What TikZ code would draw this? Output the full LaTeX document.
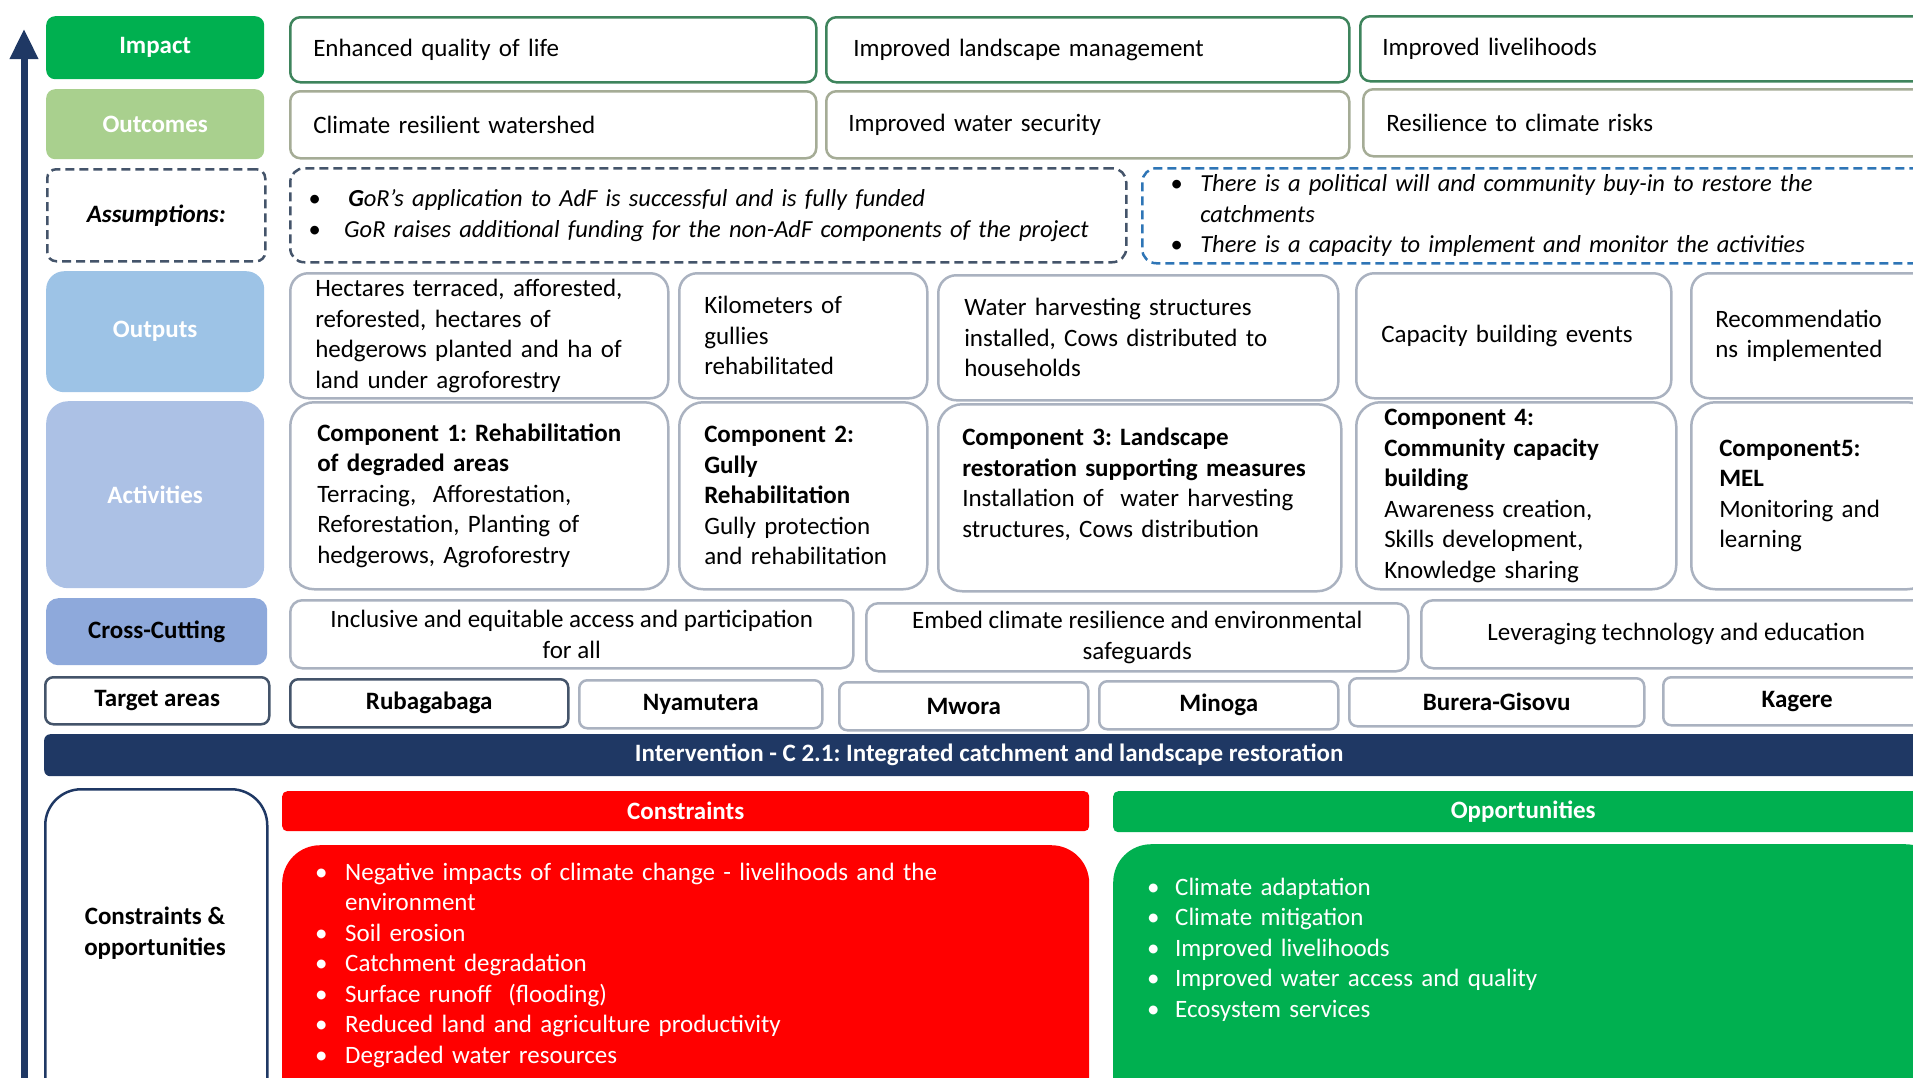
\documentclass[tikz,border=0pt]{standalone}
\usepackage{fontspec}
\setmainfont{Carlito}
\usetikzlibrary{arrows.meta}

\definecolor{impgreen}{RGB}{0,176,80}
\definecolor{outgreen}{RGB}{169,208,142}
\definecolor{outblue}{RGB}{157,195,230}
\definecolor{actblue}{RGB}{172,193,229}
\definecolor{ccblue}{RGB}{142,169,219}
\definecolor{navy}{RGB}{31,56,100}
\definecolor{slate}{RGB}{68,84,106}
\definecolor{dashblue}{RGB}{46,117,182}
\definecolor{impedge}{RGB}{62,132,92}
\definecolor{outedge}{RGB}{165,172,150}
\definecolor{celledge}{RGB}{170,178,192}

\newcommand{\bulletmark}[1]{\makebox[#1][l]{\textbullet}}
\frenchspacing

\begin{document}
\begin{tikzpicture}[x=1pt,y=-1pt,
    every node/.style={font=\fontsize{25}{30.5}\selectfont, inner sep=0pt},
    lbl/.style={anchor=north west, rounded corners=9pt, align=center, font=\fontsize{25}{30.5}\selectfont\bfseries},
    cell/.style={anchor=north west, fill=white, draw=celledge, line width=2.5pt, rounded corners=#1},
    cell/.default=18pt,
    dashbox/.style={dash pattern=on 9pt off 5pt},
    area/.style={cell=8pt, minimum height=48pt, font=\fontsize{25}{30.5}\selectfont\bfseries},
    bar/.style={anchor=north west, text=white, font=\fontsize{25}{30.5}\selectfont\bfseries}]
    \useasboundingbox (0,0) rectangle (1913,1077);
    \clip (0,0) rectangle (1913,1077);

    \coordinate (arrowfoot) at (24,1100);
    \coordinate (arrowtip) at (24,29);
    \draw[navy, line width=7pt, -{Triangle[length=30pt,width=27pt]}] (arrowfoot) -- (arrowtip);

    \node[lbl, fill=impgreen, text=white, minimum width=218pt, minimum height=63pt] (impact) at (46,16) {Impact};
    \node[cell=10pt, draw=impedge, minimum height=65pt, text width=480pt, inner xsep=23pt, align=left] (imp1) at (289,16) {Enhanced quality of life};
    \node[cell=10pt, draw=impedge, minimum height=65pt, text width=469pt, inner xsep=27pt, align=left] (imp2) at (825,16) {Improved landscape management};
    \node[cell=10pt, draw=impedge, minimum height=65pt, text width=526pt, inner xsep=22pt, align=left] (imp3) at (1359,15) {Improved livelihoods};

    \node[lbl, fill=outgreen, text=white, minimum width=218pt, minimum height=70pt] (outcomes) at (46,89) {Outcomes};
    \node[cell=10pt, draw=outedge, minimum height=67pt, text width=480pt, inner xsep=23pt, align=left] (out1) at (289,90) {Climate resilient watershed};
    \node[cell=10pt, draw=outedge, minimum height=67pt, text width=479pt, inner xsep=22pt, align=left] (out2) at (825,90) {Improved water security};
    \node[cell=10pt, draw=outedge, minimum height=67pt, text width=514pt, inner xsep=23pt, align=left] (out3) at (1362,88) {Resilience to climate risks};

    \node[lbl, fill=white, draw=slate, dashbox, line width=2.5pt, minimum width=218pt, minimum height=92pt, font=\fontsize{25}{30.5}\selectfont\bfseries\itshape] (assumptions) at (46,168) {Assumptions:};
    \node[cell=14pt, draw=slate, dashbox, minimum height=94pt, text width=800pt, inner xsep=18pt, align=left, font=\fontsize{24.5}{31}\selectfont\itshape] (asm1) at (289,167)
        {\bulletmark{40pt}\textbf{G}oR's application to AdF is successful and is fully funded\\
         \bulletmark{36pt}GoR raises additional funding for the non-AdF components of the project};
    \node[cell=14pt, draw=dashblue, dashbox, minimum height=95pt, text width=734pt, inner xsep=28pt, align=left, font=\fontsize{24.5}{30.5}\selectfont\itshape] (asm2) at (1141,167)
        {\bulletmark{30pt}There is a political will and community buy-in to restore the\\
         \hspace*{30pt}catchments\\
         \bulletmark{30pt}There is a capacity to implement and monitor the activities};

    \node[lbl, fill=outblue, text=white, minimum width=218pt, minimum height=121pt, rounded corners=18pt] (outputs) at (46,271) {Outputs};
    \node[cell, minimum height=125pt, text width=328pt, inner xsep=25pt, align=left] (op1) at (289,272)
        {Hectares terraced, afforested,\\ reforested, hectares of\\ hedgerows planted and ha of\\ land under agroforestry};
    \node[cell, minimum height=125pt, text width=198pt, inner xsep=25pt, align=left] (op2) at (678,272)
        {Kilometers of\\ gullies\\ rehabilitated};
    \node[cell, minimum height=125pt, text width=348pt, inner xsep=26pt, align=left] (op3) at (937,274)
        {Water harvesting structures\\ installed, Cows distributed to\\ households};
    \node[cell, minimum height=125pt, text width=265pt, inner xsep=25pt, align=left] (op4) at (1355,272)
        {Capacity building events};
    \node[cell, minimum height=125pt, text width=192pt, inner xsep=24pt, align=left] (op5) at (1690,272)
        {Recommendatio\\ ns implemented};

    \node[lbl, fill=actblue, text=white, minimum width=218pt, minimum height=187pt, rounded corners=22pt] (activities) at (46,401) {Activities};
    \node[cell=24pt, minimum height=187pt, text width=324pt, inner xsep=27pt, align=left] (ac1) at (289,401)
        {\textbf{Component 1: Rehabilitation}\\ \textbf{of degraded areas}\\ Terracing,~ Afforestation,\\ Reforestation, Planting of\\ hedgerows, Agroforestry};
    \node[cell=24pt, minimum height=187pt, text width=198pt, inner xsep=25pt, align=left] (ac2) at (678,401)
        {\textbf{Component 2:}\\ \textbf{Gully}\\ \textbf{Rehabilitation}\\ Gully protection\\ and rehabilitation};
    \node[cell=24pt, minimum height=187pt, text width=355pt, inner xsep=24pt, align=left] (ac3) at (937,403)
        {\textbf{Component 3: Landscape}\\ \textbf{restoration supporting measures}\\ Installation of~ water harvesting\\ structures, Cows distribution\\ \mbox{}};
    \node[cell=24pt, minimum height=187pt, text width=264pt, inner xsep=28pt, align=left] (ac4) at (1355,401)
        {\textbf{Component 4:}\\ \textbf{Community capacity}\\ \textbf{building}\\ Awareness creation,\\ Skills development,\\ Knowledge sharing};
    \node[cell=24pt, minimum height=187pt, text width=184pt, inner xsep=28pt, align=left] (ac5) at (1690,401)
        {\textbf{Component5:}\\ \textbf{MEL}\\ Monitoring and\\ learning};

    \node[lbl, fill=ccblue, minimum width=221pt, minimum height=67pt, rounded corners=12pt] (crosscut) at (46,598) {Cross-Cutting};
    \node[cell=12pt, minimum width=563pt, minimum height=68pt, align=center] (cc1) at (289,599)
        {Inclusive and equitable access and participation\\ for all};
    \node[cell=12pt, minimum width=542pt, minimum height=68pt, align=center] (cc2) at (865,602)
        {Embed climate resilience and environmental\\ safeguards};
    \node[cell=12pt, minimum width=510pt, minimum height=68pt, align=center] (cc3) at (1420,599)
        {Leveraging technology and education};

    \node[lbl, fill=white, draw=slate, line width=2.5pt, minimum width=224pt, minimum height=47pt, rounded corners=8pt] (targets) at (44,676) {Target areas};
    \node[area, draw=slate, minimum width=278pt] (rubagabaga) at (289,678) {Rubagabaga};
    \node[area, minimum width=243pt] (nyamutera) at (578,679) {Nyamutera};
    \node[area, minimum width=249pt] (mwora) at (838,681) {Mwora};
    \node[area, minimum width=239pt] (minoga) at (1098,680) {Minoga};
    \node[area, minimum width=295pt] (burera) at (1348,677) {Burera-Gisovu};
    \node[area, minimum width=268pt] (kagere) at (1662,676) {Kagere};

    \node[bar, fill=navy, rounded corners=6pt, minimum width=1890pt, minimum height=42pt] (intervention) at (44,734)
        {Intervention - C 2.1: Integrated catchment and landscape restoration};

    \node[anchor=north west, fill=white, draw=navy, line width=2.5pt, rounded corners=36pt, minimum width=222pt, minimum height=340pt] (copframe) at (44,788) {};
    \node[align=center, font=\fontsize{25}{30.5}\selectfont\bfseries] (coplabel) at (155,933) {Constraints \&\\ opportunities};

    \node[bar, fill=red, rounded corners=5pt, minimum width=807pt, minimum height=40pt] (conhead) at (282,791) {Constraints};
    \node[anchor=north west, fill=red, rounded corners=38pt, minimum width=807pt, minimum height=300pt] (conbody) at (282,845) {};
    \node[anchor=base west, text=white, text width=760pt, align=left] (conlist) at (315,880)
        {\bulletmark{30pt}Negative impacts of climate change - livelihoods and the\\
         \hspace*{30pt}environment\\
         \bulletmark{30pt}Soil erosion\\
         \bulletmark{30pt}Catchment degradation\\
         \bulletmark{30pt}Surface runoff~ (flooding)\\
         \bulletmark{30pt}Reduced land and agriculture productivity\\
         \bulletmark{30pt}Degraded water resources};

    \node[bar, fill=impgreen, rounded corners=5pt, minimum width=820pt, minimum height=41pt] (opphead) at (1113,791) {Opportunities};
    \node[anchor=north west, fill=impgreen, rounded corners=38pt, minimum width=830pt, minimum height=300pt] (oppbody) at (1113,844) {};
    \node[anchor=base west, text=white, text width=700pt, align=left] (opplist) at (1147,895)
        {\bulletmark{28pt}Climate adaptation\\
         \bulletmark{28pt}Climate mitigation\\
         \bulletmark{28pt}Improved livelihoods\\
         \bulletmark{28pt}Improved water access and quality\\
         \bulletmark{28pt}Ecosystem services};
\end{tikzpicture}
\end{document}
